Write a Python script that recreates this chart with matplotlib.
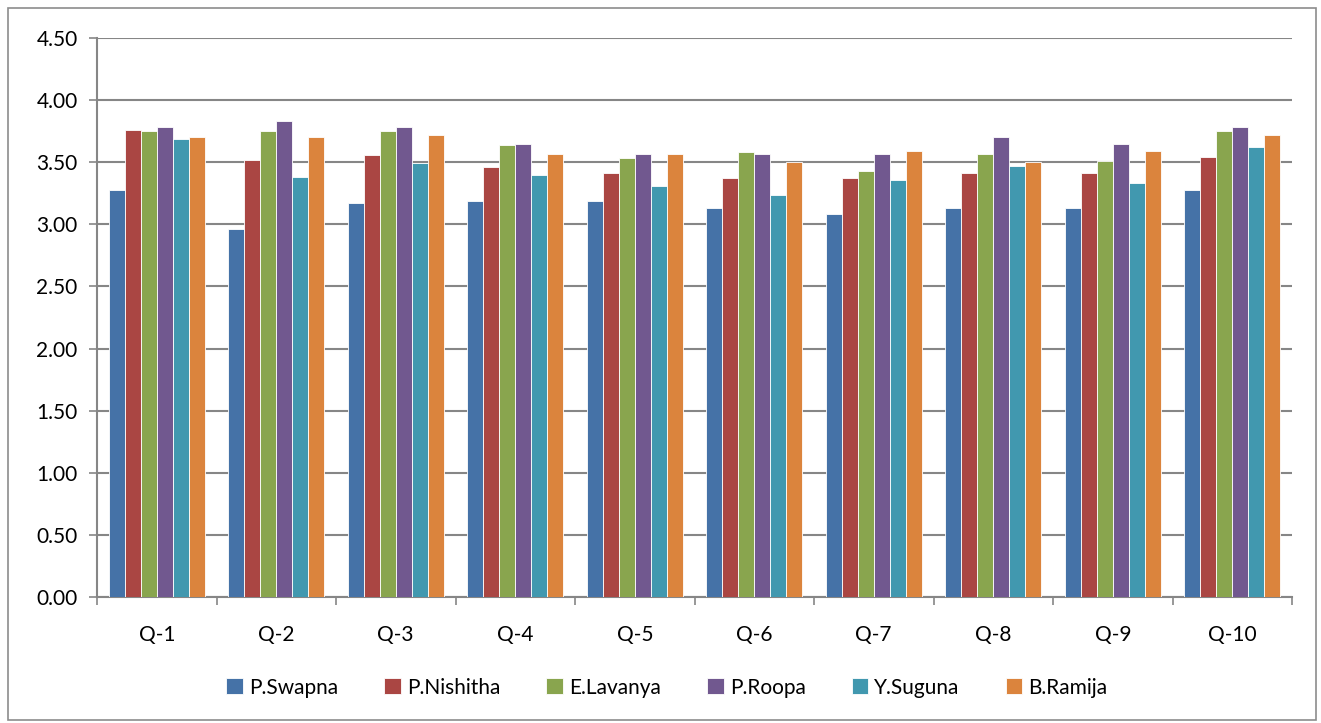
import matplotlib.pyplot as plt
import matplotlib.patches as patches
import numpy as np

plt.rcParams['font.family'] = ['Lato', 'DejaVu Sans']

questions = ["Q-1", "Q-2", "Q-3", "Q-4", "Q-5", "Q-6", "Q-7", "Q-8", "Q-9", "Q-10"]
names = ["P.Swapna", "P.Nishitha", "E.Lavanya", "P.Roopa", "Y.Suguna", "B.Ramija"]

swapna = [3.28, 2.96, 3.17, 3.19, 3.19, 3.13, 3.08, 3.13, 3.13, 3.28]
nishitha = [3.76, 3.52, 3.56, 3.46, 3.41, 3.37, 3.37, 3.41, 3.41, 3.54]
lavanya = [3.75, 3.75, 3.75, 3.64, 3.53, 3.58, 3.43, 3.57, 3.51, 3.75]
roopa = [3.78, 3.83, 3.78, 3.65, 3.57, 3.57, 3.57, 3.70, 3.65, 3.78]
suguna = [3.69, 3.38, 3.49, 3.40, 3.31, 3.24, 3.36, 3.47, 3.33, 3.62]
ramija = [3.70, 3.70, 3.72, 3.57, 3.57, 3.50, 3.59, 3.50, 3.59, 3.72]

series = [swapna, nishitha, lavanya, roopa, suguna, ramija]
colors = ["#4572A7", "#AA4643", "#89A54E", "#71588F", "#4198AF", "#DB843D"]

fig = plt.figure(figsize=(13.21, 7.23), dpi=100)
ax = fig.add_axes([97/1321, 1 - 597/723, (1292 - 97)/1321, (597 - 38)/723])

# outer chart border
fig.patches.append(patches.Rectangle((8/1321, 3/723), 1308/1321, 712/723,
                                     transform=fig.transFigure, fill=False,
                                     edgecolor="#8c8c8c", linewidth=1.2))

x = np.arange(len(questions))
w = 0.8 / 6
for i, (vals, c, n) in enumerate(zip(series, colors, names)):
    ax.bar(x - 0.4 + w * (i + 0.5), vals, w, color=c, label=n,
           edgecolor="#ffffff", linewidth=0.6, zorder=3)

ax.set_xlim(-0.5, len(questions) - 0.5)
ax.set_ylim(0, 4.5)
ax.set_yticks(np.arange(0, 4.51, 0.5))
ax.set_yticklabels(["%.2f" % v for v in np.arange(0, 4.51, 0.5)])
ax.set_xticks(x)
ax.set_xticklabels(questions)
ax.set_xticks(np.arange(-0.5, len(questions)), minor=True)
ax.tick_params(axis="x", which="major", length=0, labelsize=15, pad=20)
ax.tick_params(axis="x", which="minor", length=6, color="#868686", width=1.2)
ax.tick_params(axis="y", length=6, color="#868686", width=1.2, labelsize=15, pad=8)

ax.grid(axis="y", color="#868686", linewidth=1.5, zorder=0)
for s in ["top", "right"]:
    ax.spines[s].set_visible(False)
for s in ["left", "bottom"]:
    ax.spines[s].set_color("#868686")
    ax.spines[s].set_linewidth(1.5)

ax.legend(loc="center", bbox_to_anchor=(0.477, -0.162), ncol=6, frameon=False,
          fontsize=15, handlelength=0.8, handleheight=0.8, handletextpad=0.3,
          columnspacing=2.2)

fig.savefig("out.png", dpi=100)
